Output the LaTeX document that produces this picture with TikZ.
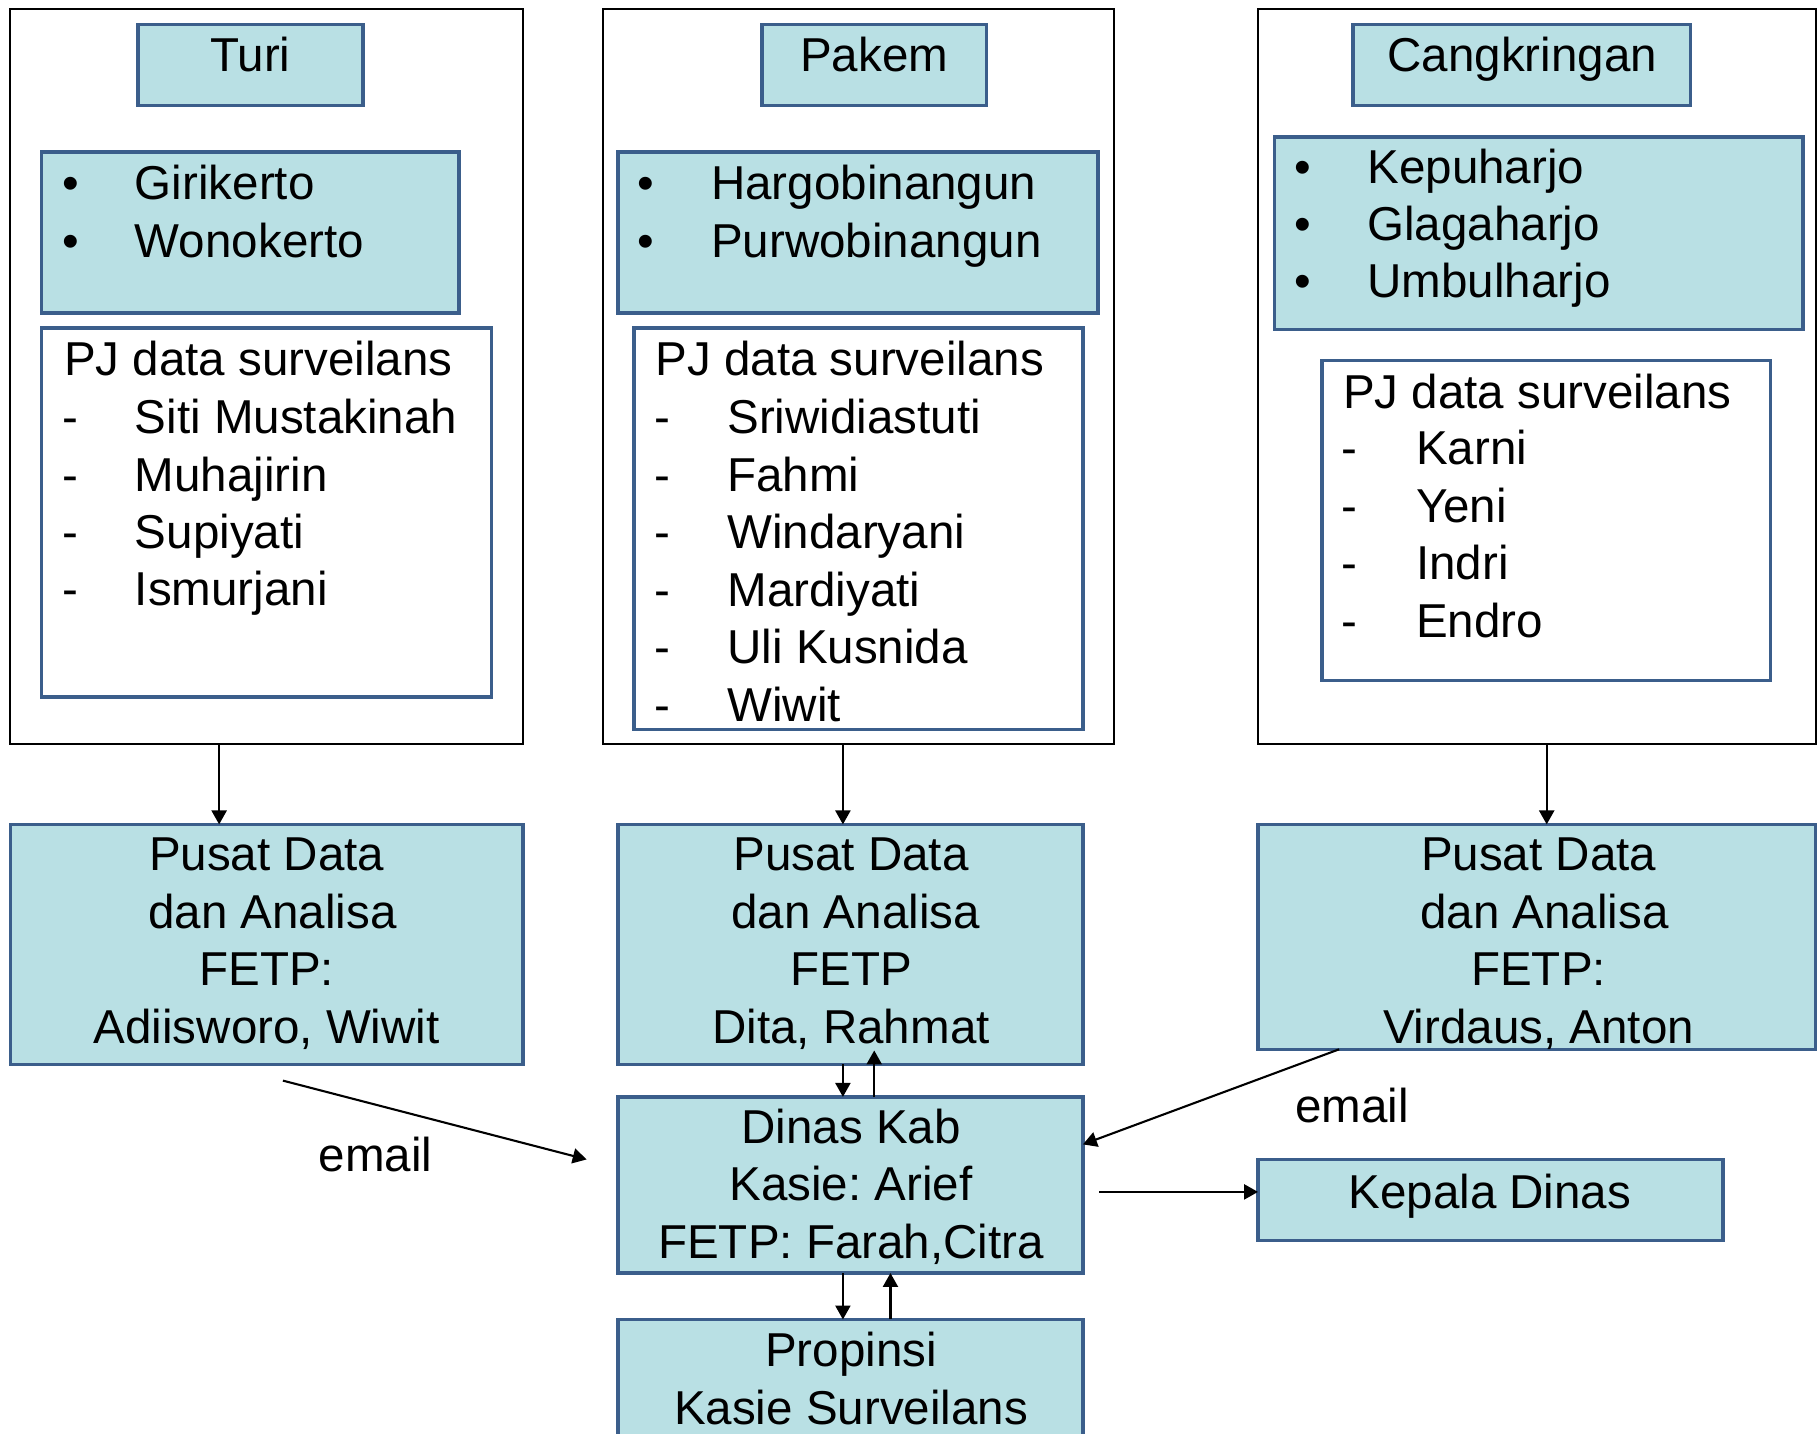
\documentclass[tikz,border=0pt]{standalone}
\usepackage{fontspec}
\setmainfont{Liberation Sans}
\usetikzlibrary{fit,calc,arrows.meta}
\definecolor{fillb}{RGB}{185,224,228}
\definecolor{edgeb}{RGB}{59,94,139}
\frenchspacing
\begin{document}
\begin{tikzpicture}[x=0.5pt,y=-0.5pt,
  outer/.style={draw=black, line width=0.9pt, inner sep=0pt, outer sep=0pt},
  bbox/.style={draw=edgeb, fill=fillb, line width=1.5pt, inner sep=0pt, outer sep=0pt},
  wbox/.style={draw=edgeb, fill=white, line width=1.5pt, inner sep=0pt, outer sep=0pt},
  txt/.style={inner sep=0pt, font=\fontsize{20.5}{25}\selectfont},
  lt/.style={txt, anchor=base west},
  ct/.style={txt, anchor=base},
  arr/.style={draw=black, line width=0.9pt, -{Triangle[length=6pt,width=6.5pt]}}]
\useasboundingbox (0,0) rectangle (1568,1236);
% outer frames
\node[outer, fit={(9,8) (451,642)}] (turiO) {};
\node[outer, fit={(520,8) (961,642)}] (pakO) {};
\node[outer, fit={(1085,8) (1566,642)}] (cangO) {};
% titles
\node[bbox, fit={(119,21) (313,91)}] (turiT) {};
\node[bbox, fit={(657,21) (851,91)}] (pakT) {};
\node[bbox, fit={(1167,21) (1458,91)}] (cangT) {};
\node[ct] (turiTt) at (216,62) {Turi};
\node[ct] (pakTt) at (754,62) {Pakem};
\node[ct] (cangTt) at (1313,62) {Cangkringan};
% village boxes
\node[bbox, fit={(36,131) (396,270)}] (turiV) {};
\node[bbox, fit={(533,131) (947,270)}] (pakV) {};
\node[bbox, fit={(1099,118) (1555,284)}] (cangV) {};
\foreach \t [count=\i] in {Girikerto, Wonokerto} {
  \node[ct] (turiVb\i) at (61,{172+(\i-1)*50}) {•};
  \node[lt] (turiVt\i) at (116,{172+(\i-1)*50}) {\t};
}
\foreach \t [count=\i] in {Hargobinangun, Purwobinangun} {
  \node[ct] (pakVb\i) at (557,{172+(\i-1)*50}) {•};
  \node[lt] (pakVt\i) at (613,{172+(\i-1)*50}) {\t};
}
\foreach \t [count=\i] in {Kepuharjo, Glagaharjo, Umbulharjo} {
  \node[ct] (cangVb\i) at (1124,{158+(\i-1)*49.5}) {•};
  \node[lt] (cangVt\i) at (1179,{158+(\i-1)*49.5}) {\t};
}
% PJ boxes
\node[wbox, fit={(36,283) (424,601)}] (turiPJ) {};
\node[wbox, fit={(547,283) (934,629)}] (pakPJ) {};
\node[wbox, fit={(1140,311) (1527,587)}] (cangPJ) {};
\node[lt] (turiPJt) at (55,324) {PJ data surveilans};
\node[lt] (pakPJt) at (565,324) {PJ data surveilans};
\node[lt] (cangPJt) at (1158,352) {PJ data surveilans};
\foreach \t [count=\i] in {Siti Mustakinah, Muhajirin, Supiyati, Ismurjani} {
  \node[ct] (turiPd\i) at (61,{374+(\i-1)*49.5}) {-};
  \node[lt] (turiPn\i) at (116,{374+(\i-1)*49.5}) {\t};
}
\foreach \t [count=\i] in {Sriwidiastuti, Fahmi, Windaryani, Mardiyati, Uli Kusnida, Wiwit} {
  \node[ct] (pakPd\i) at (571,{374+(\i-1)*49.6}) {-};
  \node[lt] (pakPn\i) at (627,{374+(\i-1)*49.6}) {\t};
}
\foreach \t [count=\i] in {Karni, Yeni, Indri, Endro} {
  \node[ct] (cangPd\i) at (1164,{401+(\i-1)*49.6}) {-};
  \node[lt] (cangPn\i) at (1221,{401+(\i-1)*49.6}) {\t};
}
% Pusat data boxes
\node[bbox, fit={(9,711) (451,918)}] (turiP) {};
\node[bbox, fit={(533,711) (934,918)}] (pakP) {};
\node[bbox, fit={(1085,711) (1566,905)}] (cangP) {};
\foreach \xx/\t [count=\i] in {230/Pusat Data, 235/dan Analisa, 230/FETP:, 230/{Adiisworo, Wiwit}} {
  \node[ct] (turiPt\i) at (\xx,{751+(\i-1)*49.6}) {\t};
}
\foreach \xx/\t [count=\i] in {734/Pusat Data, 738/dan Analisa, 734/FETP, 734/{Dita, Rahmat}} {
  \node[ct] (pakPt\i) at (\xx,{751+(\i-1)*49.6}) {\t};
}
\foreach \xx/\t [count=\i] in {1327/Pusat Data, 1332/dan Analisa, 1327/FETP:, 1327/{Virdaus, Anton}} {
  \node[ct] (cangPt\i) at (\xx,{751+(\i-1)*49.6}) {\t};
}
% Dinas, Propinsi, Kepala
\node[bbox, fit={(533,946) (934,1098)}] (dinas) {};
\node[bbox, fit={(533,1138) (934,1240)}] (prop) {};
\node[bbox, fit={(1085,1000) (1486,1070)}] (kepala) {};
\foreach \t [count=\i] in {Dinas Kab, Kasie: Arief, {FETP: Farah,Citra}} {
  \node[ct] (dinast\i) at (734,{986+(\i-1)*49.5}) {\t};
}
\foreach \t [count=\i] in {Propinsi, Kasie Surveilans} {
  \node[ct] (propt\i) at (734,{1179+(\i-1)*50}) {\t};
}
\node[ct] (kepalat) at (1285,1042) {Kepala Dinas};
% labels
\node[ct] (email1) at (324,1010) {email};
\node[ct] (email2) at (1166,968) {email};
% connectors
\draw[arr] (turiO.south -| 189,0) -- (turiP.north -| 189,0);
\draw[arr] (pakO.south -| 727,0) -- (pakP.north -| 727,0);
\draw[arr] (cangO.south -| 1334,0) -- (cangP.north -| 1334,0);
\draw[arr] (pakP.south -| 727,0) -- (dinas.north -| 727,0);
\coordinate (upTip) at ($(pakP.south -| 754,0)+(0,-12)$);
\draw[arr] (dinas.north -| 754,0) -- (upTip);
\draw[arr] (dinas.south -| 727,0) -- (prop.north -| 727,0);
\draw[arr] (prop.north -| 768,0) -- (dinas.south -| 768,0);
\coordinate (e1s) at (244,932);
\coordinate (e1e) at (506,1000);
\draw[arr] (e1s) -- (e1e);
\draw[arr] (cangP.south -| 1155,0) -- (dinas.east |- 0,987);
\coordinate (kStart) at (948,1028);
\draw[arr] (kStart) -- (kepala.west |- kStart);
\end{tikzpicture}
\end{document}
